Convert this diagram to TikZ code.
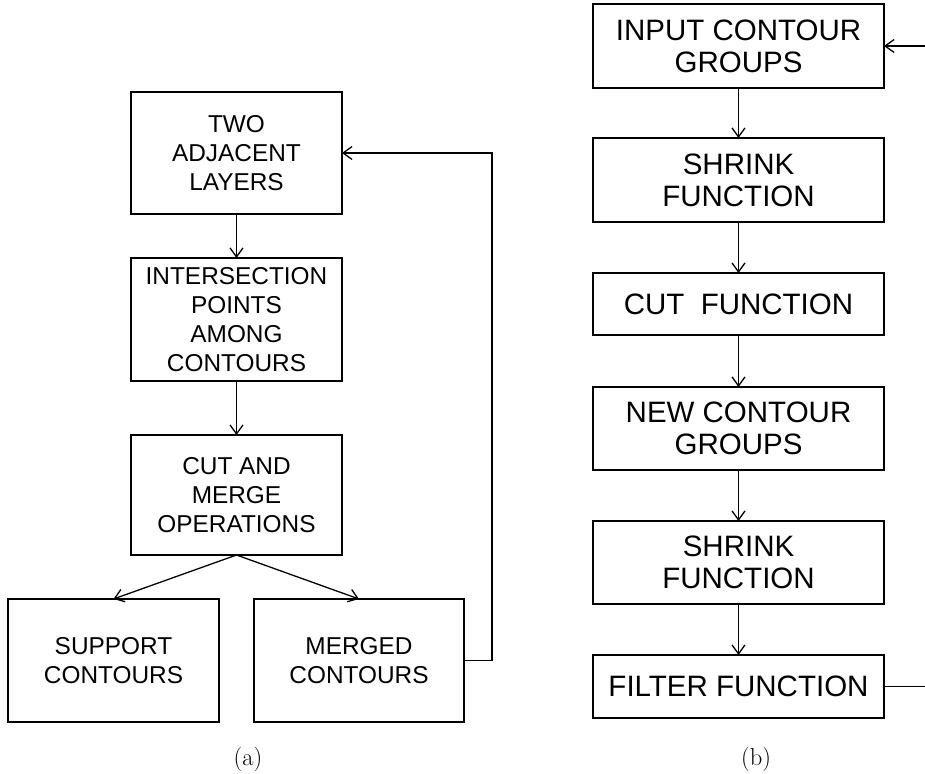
\documentclass[tikz,border=0pt]{standalone}
\usepackage{fontspec}
\newfontfamily\arialfont{Liberation Sans}
\usetikzlibrary{positioning, arrows.meta}

\begin{document}
\begin{tikzpicture}[x=1pt, y=-1pt,
    abox/.style={rectangle, draw, line width=2.8pt, outer sep=0pt, inner sep=0pt, minimum width=211pt, align=center, font=\arialfont\fontsize{24.4}{29}\selectfont},
    bbox/.style={rectangle, draw, line width=2.8pt, outer sep=0pt, inner sep=0pt, minimum width=291pt, align=center, font=\arialfont\fontsize{29.5}{32}\selectfont},
    flow/.style={-{Straight Barb[length=9pt, width=13pt]}, line width=1.3pt},
    sublabel/.style={font=\fontsize{24.5}{29}\selectfont}]
    \useasboundingbox (0,0) rectangle (925,773);
    % Panel (a)
    \node[abox, minimum height=122pt](two) at (236.5,153){TWO\\ADJACENT\\LAYERS};
    \node[abox, minimum height=123pt, below=44pt of two](inter){INTERSECTION\\POINTS\\AMONG\\CONTOURS};
    \node[abox, minimum height=120pt, below=54pt of inter](cutmerge){CUT AND\\MERGE\\OPERATIONS};
    \node[abox, minimum height=123pt](support) at (113.5,660.5){SUPPORT\\CONTOURS};
    \node[abox, minimum height=123pt, minimum width=210pt](merged) at (359,660.5){MERGED\\CONTOURS};
    \draw[flow] (two) -- (inter);
    \draw[flow] (inter) -- (cutmerge);
    \draw[flow] (cutmerge.south) -- (support.north);
    \draw[flow] (cutmerge.south) -- (merged.north);
    \draw[flow] (merged.east) -- ++(28pt,0) |- (two.east);
    \node[sublabel](suba) at (248,759.5){(a)};
    % Panel (b)
    \node[bbox, minimum height=84pt](input) at (738.5,46){INPUT CONTOUR\\GROUPS};
    \node[bbox, minimum height=84pt, below=50pt of input](shrinka){SHRINK\\FUNCTION};
    \node[bbox, minimum height=62pt, below=51pt of shrinka](cut){CUT~~FUNCTION};
    \node[bbox, minimum height=83pt, below=52pt of cut](newgroups){NEW CONTOUR\\GROUPS};
    \node[bbox, minimum height=83pt, below=51pt of newgroups](shrinkb){SHRINK\\FUNCTION};
    \node[bbox, minimum height=63pt, below=51pt of shrinkb](filter){FILTER FUNCTION};
    \coordinate (redge) at (925,0);
    \draw[flow] (redge |- input.east) -- (input.east);
    \draw[flow] (input) -- (shrinka);
    \draw[flow] (shrinka) -- (cut);
    \draw[flow] (cut) -- (newgroups);
    \draw[flow] (newgroups) -- (shrinkb);
    \draw[flow] (shrinkb) -- (filter);
    \draw[line width=1.3pt] (filter.east) -- (redge |- filter.east);
    \node[sublabel](subb) at (756,759.5){(b)};
\end{tikzpicture}
\end{document}
